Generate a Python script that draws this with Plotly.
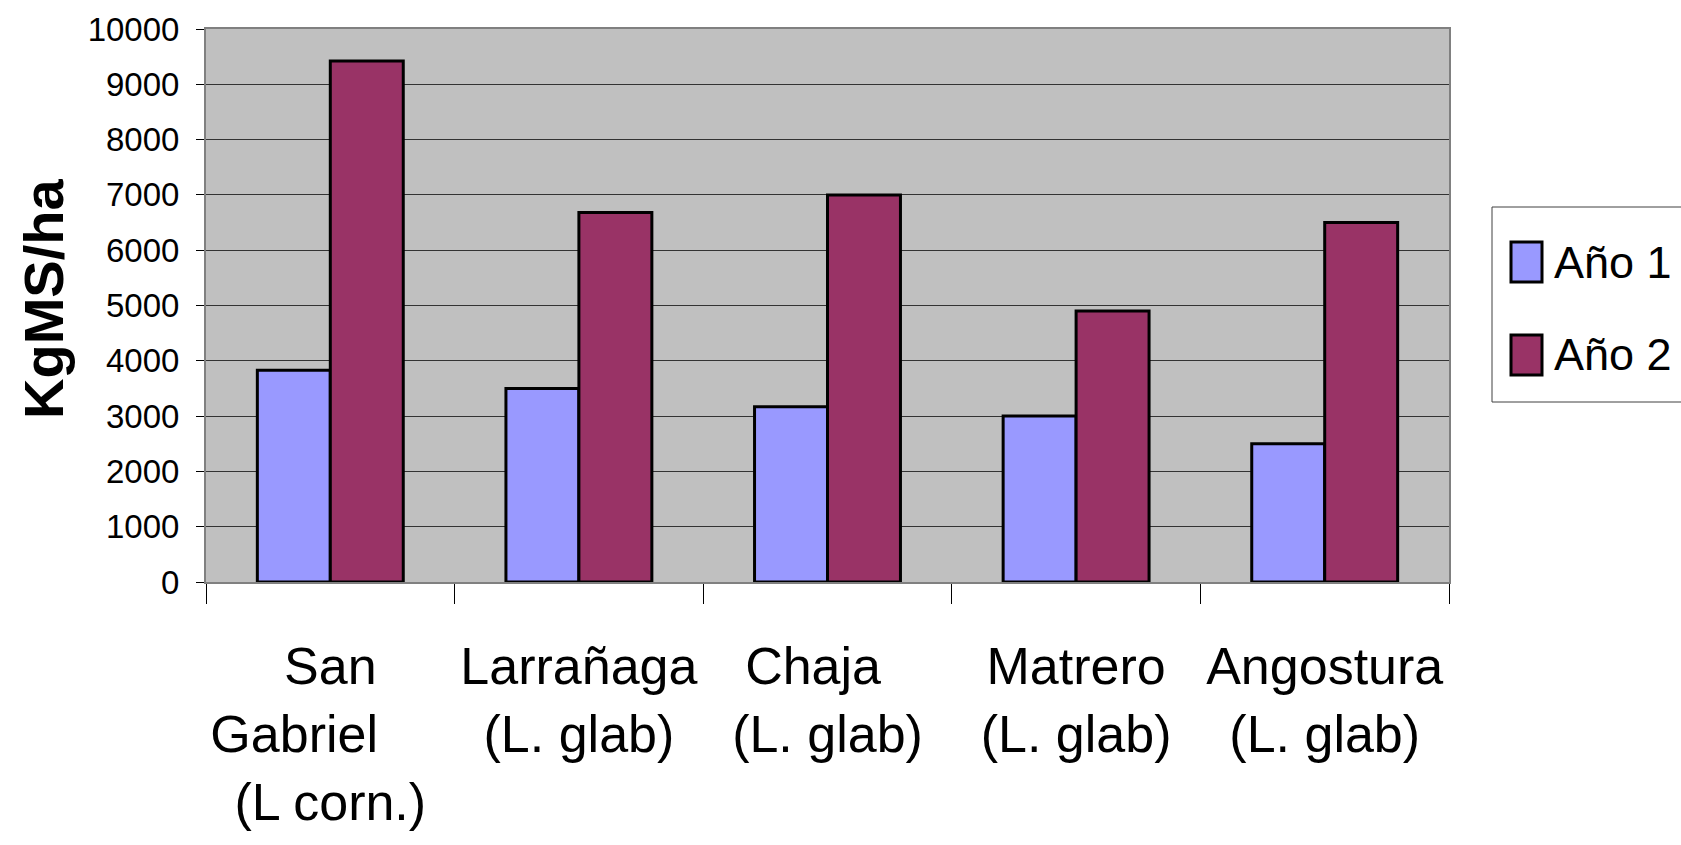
import plotly.graph_objects as go

# Cultivares evaluados y producción de forraje (kg MS/ha) por año
cultivares = ["San Gabriel", "Larrañaga", "Chaja", "Matrero", "Angostura"]
etiquetas = [
    "San<br>Gabriel\u00a0\u00a0\u00a0\u00a0\u00a0<br>(L corn.)",
    "Larrañaga<br>(L. glab)",
    "Chaja\u00a0\u00a0<br>(L. glab)",
    "Matrero<br>(L. glab)",
    "Angostura<br>(L. glab)",
]
ano1 = [3830, 3500, 3170, 3000, 2500]
ano2 = [9420, 6680, 7000, 4900, 6500]
y_ticks = [0, 1000, 2000, 3000, 4000, 5000, 6000, 7000, 8000, 9000, 10000]

COL1 = "#9999FF"
COL2 = "#993366"
SANS = "Liberation Sans, Arial, sans-serif"

W, H = 1681, 845
L, R, T, B = 206, 1449, 29, 582  # plot area in pixels


def px(x):
    return (x - L) / (R - L)


def py(y):
    return (B - y) / (B - T)


fig = go.Figure()
fig.add_trace(go.Bar(x=cultivares, y=ano1, name="Año 1",
                     marker=dict(color=COL1, line=dict(color="black", width=3))))
fig.add_trace(go.Bar(x=cultivares, y=ano2, name="Año 2",
                     marker=dict(color=COL2, line=dict(color="black", width=3))))

fig.update_layout(
    width=W, height=H,
    margin=dict(l=L, r=W - R, t=T, b=H - B, pad=0),
    paper_bgcolor="white",
    plot_bgcolor="#C0C0C0",
    barmode="group",
    bargap=0.413,
    bargroupgap=0,
    showlegend=False,
    font=dict(family=SANS, color="black"),
)

fig.update_xaxes(
    tickmode="array", tickvals=cultivares, ticktext=etiquetas, tickangle=0,
    tickson="boundaries", ticks="outside", ticklen=20, tickwidth=1, tickcolor="black",
    tickfont=dict(family=SANS, size=52, color="black"),
    ticklabelstandoff=38,
    showline=True, linecolor="#808080", linewidth=2, mirror=True,
    showgrid=False, automargin=False,
)
fig.update_yaxes(
    range=[0, 10000], tickmode="array", tickvals=y_ticks,
    ticktext=[str(v) for v in y_ticks],
    ticks="outside", ticklen=8, tickwidth=1, tickcolor="black",
    tickfont=dict(family=SANS, size=33, color="black"),
    ticklabelstandoff=10,
    showgrid=True, gridcolor="#333333", gridwidth=1,
    zeroline=False,
    showline=True, linecolor="#808080", linewidth=2, mirror=True,
    automargin=False,
)

# Título del eje Y
fig.add_annotation(
    text="<b>KgMS/ha</b>", textangle=-90,
    xref="paper", yref="paper", x=px(43), y=py(299),
    xanchor="center", yanchor="middle", showarrow=False,
    font=dict(family=SANS, size=56, color="black"),
)

# Leyenda
fig.add_shape(type="rect", xref="paper", yref="paper",
              x0=px(1492), x1=px(1700), y0=py(207), y1=py(402),
              line=dict(color="#404040", width=1), fillcolor="white", layer="above")
for nombre, color, yc in [("Año 1", COL1, 262), ("Año 2", COL2, 355)]:
    fig.add_shape(type="rect", xref="paper", yref="paper",
                  x0=px(1511), x1=px(1542), y0=py(yc - 20), y1=py(yc + 20),
                  line=dict(color="black", width=3), fillcolor=color, layer="above")
    fig.add_annotation(text=nombre, xref="paper", yref="paper",
                       x=px(1552), y=py(yc), xanchor="left", yanchor="middle",
                       showarrow=False,
                       font=dict(family=SANS, size=45, color="black"))

fig.write_html("out.html")
